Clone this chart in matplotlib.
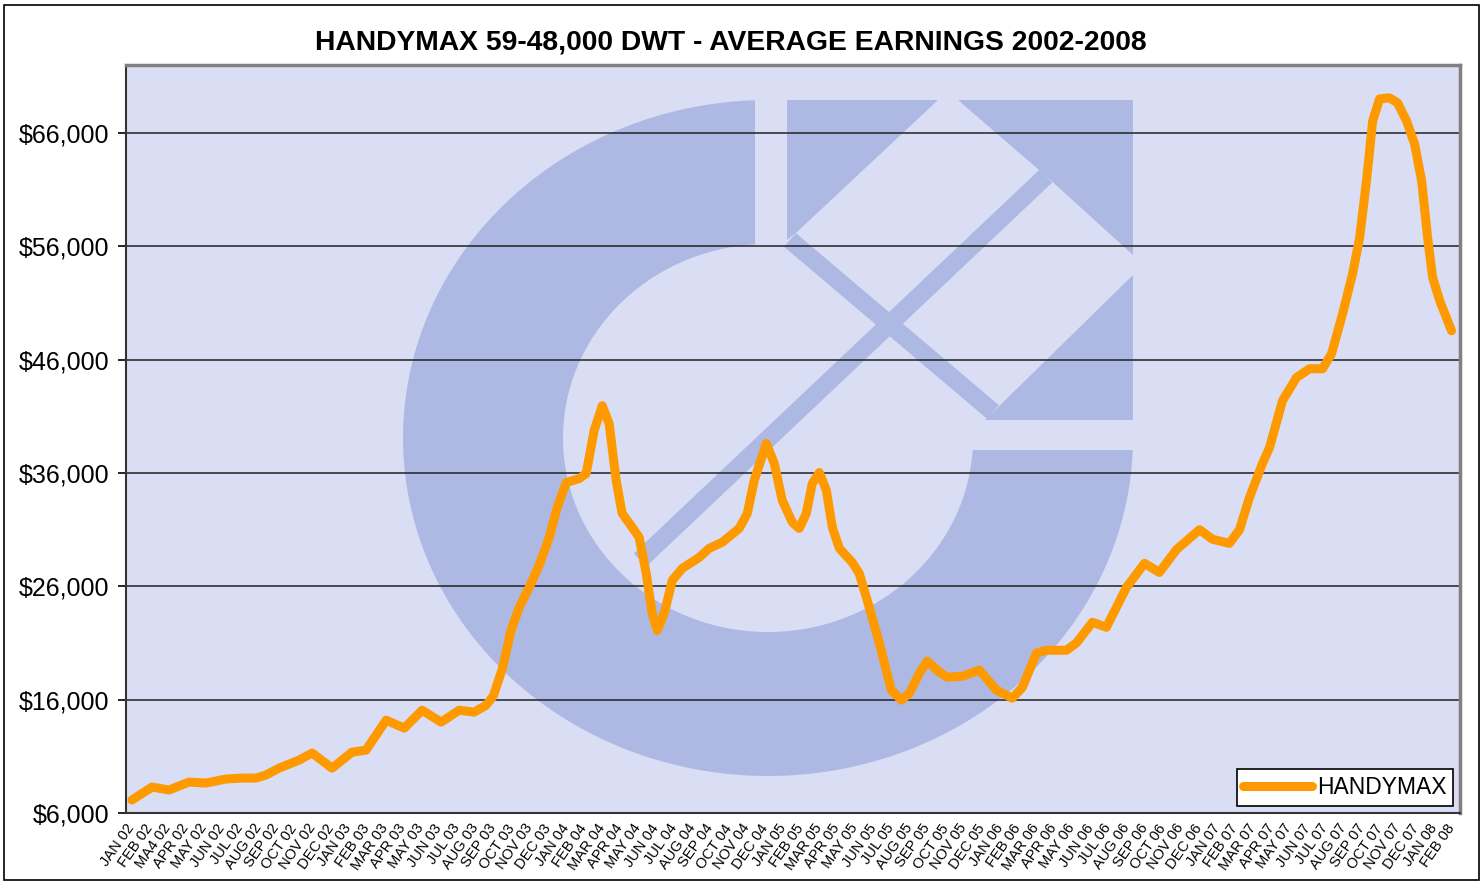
import numpy as np
import matplotlib
matplotlib.use("Agg")
import matplotlib.pyplot as plt
from matplotlib.patches import Polygon, Rectangle
from matplotlib.transforms import Affine2D

plt.rcParams['font.family'] = ['Liberation Sans', 'DejaVu Sans']

# month labels as printed on the axis (the "MA4 02" typo is in the original)
month_labels = [
    "JAN 02", "FEB 02", "MA4 02", "APR 02", "MAY 02", "JUN 02", "JUL 02", "AUG 02", "SEP 02", "OCT 02", "NOV 02", "DEC 02",
    "JAN 03", "FEB 03", "MAR 03", "APR 03", "MAY 03", "JUN 03", "JUL 03", "AUG 03", "SEP 03", "OCT 03", "NOV 03", "DEC 03",
    "JAN 04", "FEB 04", "MAR 04", "APR 04", "MAY 04", "JUN 04", "JUL 04", "AUG 04", "SEP 04", "OCT 04", "NOV 04", "DEC 04",
    "JAN 05", "FEB 05", "MAR 05", "APR 05", "MAY 05", "JUN 05", "JUL 05", "AUG 05", "SEP 05", "OCT 05", "NOV 05", "DEC 05",
    "JAN 06", "FEB 06", "MAR 06", "APR 06", "MAY 06", "JUN 06", "JUL 06", "AUG 06", "SEP 06", "OCT 06", "NOV 06", "DEC 06",
    "JAN 07", "FEB 07", "MAR 07", "APR 07", "MAY 07", "JUN 07", "JUL 07", "AUG 07", "SEP 07", "OCT 07", "NOV 07", "DEC 07",
    "JAN 08", "FEB 08",
]

# position in months after JAN 02, and average earnings ($/day)
months = [
    0.33, 1.44, 2.38, 3.48, 4.42, 5.53, 6.4, 7.19, 7.74, 8.46, 9.57, 10.29, 11.39, 12.5, 13.27, 14.38,
    15.38, 16.37, 17.42, 18.42, 19.25, 19.9, 20.3, 20.8, 21.29, 21.74, 22.29, 22.84, 23.4, 23.84, 24.34,
    25.06, 25.44, 25.88, 26.33, 26.71, 27.1, 27.43, 27.99, 28.37, 28.76, 29.09, 29.37, 29.76, 30.2, 30.75,
    31.69, 32.24, 32.96, 33.9, 34.35, 34.73, 35.4, 35.84, 36.28, 36.84, 37.22, 37.61, 37.94, 38.33, 38.72,
    39.05, 39.44, 40.15, 40.54, 41.09, 41.65, 42.31, 42.87, 43.31, 43.86, 44.3, 44.97, 45.41, 46.24, 47.18,
    48.12, 49.0, 49.56, 50.33, 50.88, 51.99, 52.54, 53.43, 54.2, 55.31, 56.31, 57.13, 58.08, 59.35, 60.07,
    61.0, 61.56, 62.11, 62.83, 63.22, 63.94, 64.71, 65.43, 66.15, 66.65, 67.26, 67.81, 68.2, 68.58, 68.92,
    69.3, 69.85, 70.3, 70.8, 71.24, 71.63, 71.96, 72.24, 72.63, 73.28,
]
earnings = [
    7150, 8290, 8030, 8730, 8640, 9000, 9080, 9080, 9350, 9960, 10670, 11290, 9960, 11370, 11550, 14190,
    13490, 15070, 14020, 15070, 14900, 15500, 16300, 18700, 22120, 24150, 25910, 27850, 30320, 32960, 35160,
    35510, 35950, 39740, 41940, 40360, 35340, 32430, 31200, 30320, 27140, 23620, 22120, 23620, 26530, 27580,
    28550, 29350, 29880, 31110, 32430, 35340, 38600, 36840, 33580, 31640, 31110, 32430, 35070, 36040, 34460,
    31200, 29350, 28110, 27140, 24150, 20980, 16840, 15960, 16570, 18330, 19400, 18420, 17980, 18070, 18600,
    16840, 16130, 17100, 20100, 20360, 20360, 21000, 22830, 22390, 25910, 28030, 27230, 29250, 31000, 30150,
    29790, 31000, 33840, 36840, 38250, 42390, 44420, 45200, 45200, 46530, 50050, 53570, 56750, 61770, 67050,
    69000, 69100, 68660, 67050, 65030, 61770, 56750, 53220, 51200, 48550,
]
y_ticks = [6000, 16000, 26000, 36000, 46000, 56000, 66000]

W, H = 1483, 884
fig = plt.figure(figsize=(W / 100, H / 100), dpi=100)
fig.patch.set_facecolor("white")
ax = fig.add_axes([126 / W, 1 - 813 / H, (1460 - 126) / W, (813 - 65) / H])
ax.set_facecolor("#D9DEF5")

# outer chart border
fig.patches.append(Rectangle((0.003, 0.004), 0.994, 0.99, transform=fig.transFigure,
                             fill=False, edgecolor="black", linewidth=1.2))

# background watermark logo, drawn in reference pixel space
px = Affine2D().scale(1 / W, -1 / H).translate(0, 1) + fig.transFigure
mark = "#AEB9E3"

# "C" ring: elliptical band, vertical cut at top, horizontal cut at right
cx, cy, rxo, ryo, rxi, ryi = 768, 438, 365, 338, 205, 194
t_out = np.linspace(np.arcsin(12 / ryo), 2 * np.pi - np.arccos((755 - cx) / rxo), 200)
t_in = np.linspace(2 * np.pi - np.arccos((755 - cx) / rxi), np.arcsin(12 / ryi), 200)
ring_pts = np.concatenate([
    np.column_stack([cx + rxo * np.cos(t_out), cy + ryo * np.sin(t_out)]),
    np.column_stack([cx + rxi * np.cos(t_in), cy + ryi * np.sin(t_in)]),
])
ax.add_patch(Polygon(ring_pts, closed=True, facecolor=mark, edgecolor="none", transform=px, zorder=0.1))

for pts in [
    [(787, 100), (938, 100), (797, 232), (787, 240)],
    [(958, 100), (1133, 100), (1133, 255), (1046, 176)],
    [(1133, 275), (1133, 420), (985, 420)],
]:
    ax.add_patch(Polygon(pts, closed=True, facecolor=mark, edgecolor="none", transform=px, zorder=0.1))
ax.plot([640, 1046], [560, 176], color=mark, linewidth=13, transform=px, zorder=0.1, solid_capstyle="butt")
ax.plot([790, 993], [240, 412], color=mark, linewidth=13, transform=px, zorder=0.1, solid_capstyle="butt")

ax.plot(months, earnings, color="#FF9900", linewidth=6.5, solid_joinstyle="round",
        solid_capstyle="round", label="HANDYMAX", zorder=3)

ax.set_xlim(0, 73.75)
ax.set_ylim(6000, 72000)
ax.set_yticks(y_ticks)
ax.set_yticklabels([f"${v:,}" for v in y_ticks], fontsize=18)
ax.yaxis.grid(True, color="#222222", linewidth=1.1)
ax.set_axisbelow(True)

ax.set_xticks(np.arange(len(month_labels)))
ax.set_xticklabels(month_labels, rotation=55, ha="right", rotation_mode="anchor", fontsize=10.5)
ax.set_xticks(np.arange(0, len(month_labels), 4), minor=True)
ax.tick_params(axis="x", which="major", length=0, pad=6)
ax.tick_params(axis="x", which="minor", length=5, width=1.2, color="black")
ax.tick_params(axis="y", length=6, width=1.2, pad=6)

for side in ["top", "right"]:
    ax.spines[side].set_color("#808080")
    ax.spines[side].set_linewidth(2.5)
for side in ["left", "bottom"]:
    ax.spines[side].set_color("#333333")
    ax.spines[side].set_linewidth(1.5)

fig.text(731 / W, 1 - 43 / H, "HANDYMAX 59-48,000 DWT - AVERAGE EARNINGS 2002-2008",
         ha="center", va="center", fontsize=20.3, fontweight="bold")

leg = ax.legend(loc="lower right", fontsize=16.5, frameon=True, fancybox=False,
                borderaxespad=0.3, handlelength=3.0, handletextpad=0.2, borderpad=0.3)
leg.get_frame().set_edgecolor("black")
leg.get_frame().set_linewidth(1.2)
leg.get_frame().set_facecolor("white")
leg.get_frame().set_alpha(1)

fig.savefig("out.png", dpi=100)
